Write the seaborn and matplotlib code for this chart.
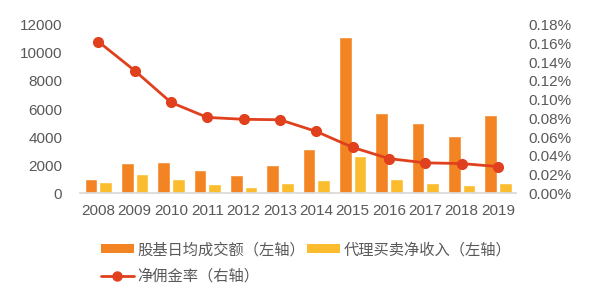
import matplotlib
matplotlib.use("Agg")
import matplotlib.pyplot as plt
import seaborn as sns
import pandas as pd
from matplotlib.ticker import FuncFormatter, MultipleLocator
from matplotlib.lines import Line2D
from matplotlib.patches import Patch

years = ["2008", "2009", "2010", "2011", "2012", "2013", "2014", "2015", "2016", "2017", "2018", "2019"]
turnover = [1050, 2170, 2240, 1690, 1290, 2000, 3160, 11140, 5690, 5000, 4110, 5590]
net_income = [830, 1380, 1020, 640, 450, 710, 970, 2660, 1000, 760, 570, 740]
commission = [0.162, 0.131, 0.097, 0.081, 0.079, 0.0785, 0.066, 0.049, 0.037, 0.0325, 0.0317, 0.0285]

name_a = "股基日均成交额（左轴）"
name_b = "代理买卖净收入（左轴）"
name_c = "净佣金率（右轴）"

c_orange = "#F38423"
c_yellow = "#FBBC2D"
c_red = "#E0401D"
gray = "#595959"

sns.set_theme(style="white")
plt.rcParams["font.family"] = ["Liberation Sans", "Noto Sans CJK SC", "DejaVu Sans"]

df = pd.DataFrame({
    "year": years * 2,
    "value": turnover + net_income,
    "series": [name_a] * len(years) + [name_b] * len(years),
})
df_line = pd.DataFrame({"year": years, "rate": commission})

fig = plt.figure(figsize=(5.94, 2.88), dpi=100)
ax = fig.add_axes([0.135, 0.329, 0.734, 0.585])

sns.barplot(data=df, x="year", y="value", hue="series", ax=ax,
            palette=[c_orange, c_yellow], width=0.8, gap=0.12,
            saturation=1, legend=False)
ax.set_xlim(-0.5, 11.5)
ax.set_ylim(0, 12000)
ax.yaxis.set_major_locator(MultipleLocator(2000))
ax.set_xlabel("")
ax.set_ylabel("")
for s in ["top", "right", "left"]:
    ax.spines[s].set_visible(False)
ax.spines["bottom"].set_color("#D9D9D9")
ax.tick_params(axis="both", length=0, labelsize=11, colors=gray)
ax.tick_params(axis="x", pad=8)
ax.tick_params(axis="y", pad=13)

ax2 = ax.twinx()
sns.pointplot(data=df_line, x="year", y="rate", ax=ax2, color=c_red,
              markers="o", markersize=6.5, linewidth=2)
ax2.set_xlim(-0.5, 11.5)
ax2.set_ylim(0, 0.18)
ax2.yaxis.set_major_locator(MultipleLocator(0.02))
ax2.yaxis.set_major_formatter(FuncFormatter(lambda v, p: f"{v:.2f}%"))
ax2.set_ylabel("")
ax2.set_xlabel("")
for s in ["top", "right", "left", "bottom"]:
    ax2.spines[s].set_visible(False)
ax2.tick_params(axis="y", length=0, labelsize=11, colors=gray, pad=9)
ax2.grid(False)
ax.grid(False)

handles = [
    Patch(facecolor=c_orange, edgecolor="none"),
    Line2D([0], [0], color=c_red, lw=2, marker="o", markersize=6.5),
    Patch(facecolor=c_yellow, edgecolor="none"),
]
labels = [name_a, name_c, name_b]
leg = fig.legend(handles, labels, ncol=2, loc="upper left",
                 bbox_to_anchor=(0.147, 0.21), frameon=False,
                 handlelength=2.13, handleheight=0.5,
                 columnspacing=0.15, handletextpad=0.25, labelspacing=0.63,
                 prop={"family": ["Noto Sans CJK SC", "DejaVu Sans"], "size": 11})
for t in leg.get_texts():
    t.set_color(gray)

fig.savefig("out.png", dpi=100)
